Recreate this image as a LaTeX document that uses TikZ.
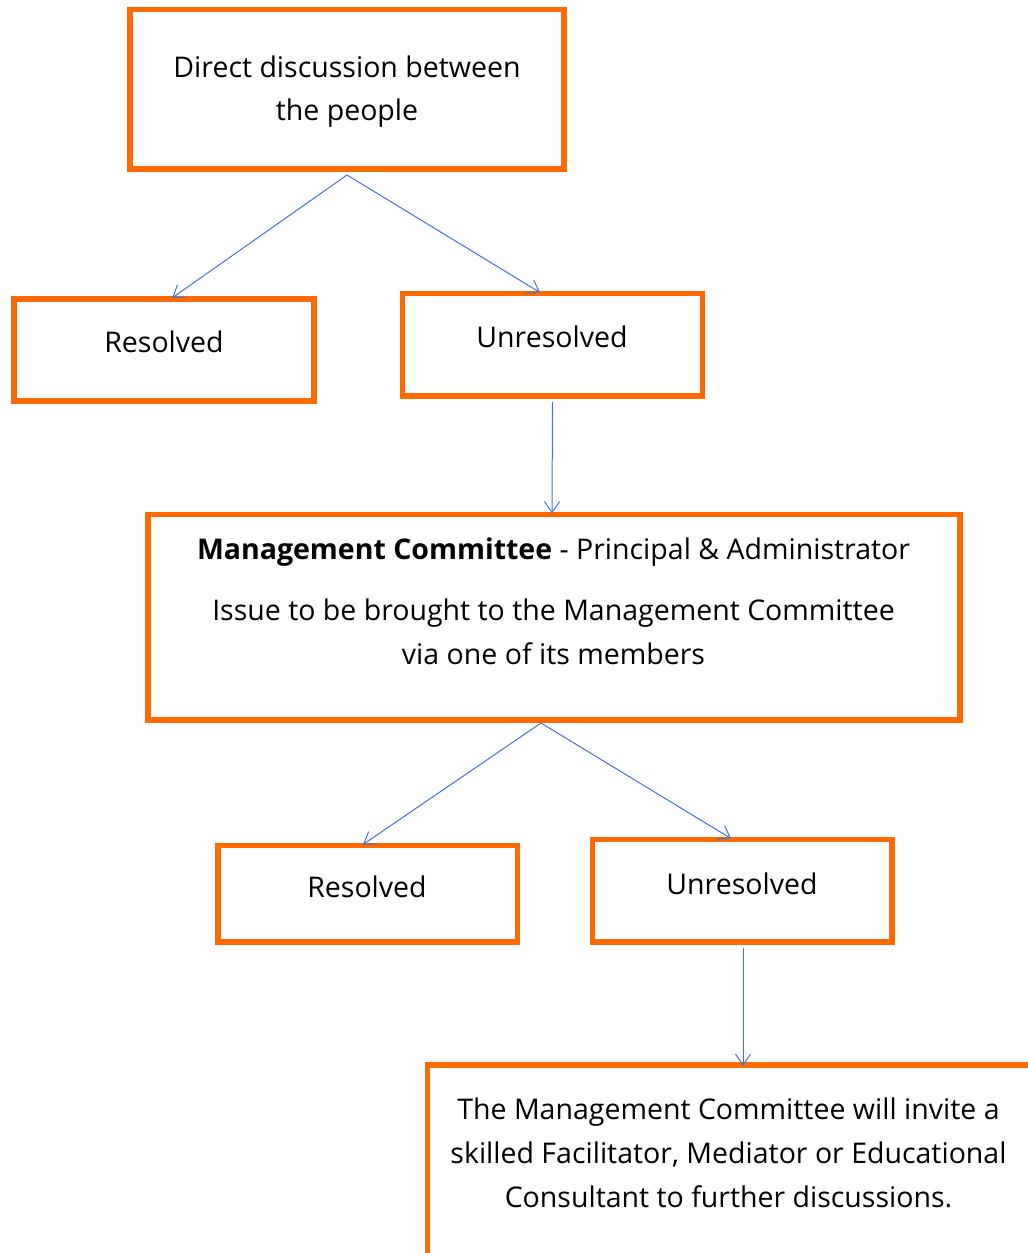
\documentclass[tikz,border=0pt]{standalone}
\usepackage{fontspec}
\setmainfont{Open Sans}
\usetikzlibrary{arrows.meta}
\definecolor{orng}{RGB}{255,106,0}
\definecolor{arrblue}{RGB}{68,114,196}
\begin{document}
\begin{tikzpicture}[x=1pt,y=-1pt,
  box/.style={draw=orng, line width=5.5pt, fill=none, inner sep=0pt, outer sep=0pt},
  txt/.style={anchor=base, inner sep=0pt, font=\fontsize{28.5}{34}\selectfont},
  arr/.style={draw=arrblue, line width=1pt, -{Straight Barb[length=11pt,width=15pt,line width=1pt]}}]
\useasboundingbox (0,0) rectangle (1028,1253);
\begin{scope}
\clip (0,0) rectangle (1028,1253);
% boxes
\node[box, minimum width=434pt, minimum height=159.5pt] (b1) at (347,89.25) {};
\node[box, minimum width=300pt, minimum height=102pt] (r1) at (164,350) {};
\node[box, minimum width=300pt, minimum height=102.5pt] (u1) at (552.5,344.75) {};
\node[box, minimum width=812pt, minimum height=205.5pt] (m) at (554,617.25) {};
\node[box, minimum width=299.5pt, minimum height=96.5pt] (r2) at (367.75,893.75) {};
\node[box, minimum width=299.5pt, minimum height=102.5pt] (u2) at (742.25,890.75) {};
\node[box, minimum width=620pt, minimum height=240pt] (f) at (737.5,1185) {};
\end{scope}
% texts
\node[txt] (t1a) at (347,77) {Direct discussion between};
\node[txt] (t1b) at (347,120) {the people};
\node[txt] (tr1) at (164,352) {Resolved};
\node[txt] (tu1) at (552,347) {Unresolved};
\node[txt] (tm1) at (553.5,559) {\textbf{Management Committee} - Principal \& Administrator};
\node[txt] (tm2) at (553.5,620) {Issue to be brought to the Management Committee};
\node[txt] (tm3) at (553.5,664) {via one of its members};
\node[txt] (tr2) at (367,897) {Resolved};
\node[txt] (tu2) at (742,894) {Unresolved};
\node[txt] (tf1) at (728.5,1119) {The Management Committee will invite a};
\node[txt] (tf2) at (728.5,1163) {skilled Facilitator, Mediator or Educational};
\node[txt] (tf3) at (728.5,1207) {Consultant to further discussions.};
% connectors
\draw[arr] ([yshift=-6pt]b1.south) -- ([xshift=8pt,yshift=1pt]r1.north);
\draw[arr] ([yshift=-6pt]b1.south) -- ([xshift=-12.5pt,yshift=1pt]u1.north);
\draw[arr] ([yshift=-6pt]u1.south) -- ([xshift=-2pt,yshift=1pt]m.north);
\draw[arr] ([xshift=-13pt,yshift=-3pt]m.south) -- ([xshift=-4.75pt,yshift=1pt]r2.north);
\draw[arr] ([xshift=-13pt,yshift=-3pt]m.south) -- ([xshift=-11.25pt,yshift=1pt]u2.north);
\draw[arr] ([xshift=0.75pt,yshift=-6pt]u2.south) -- ([xshift=5.5pt,yshift=-1pt]f.north);
\end{tikzpicture}
\end{document}
